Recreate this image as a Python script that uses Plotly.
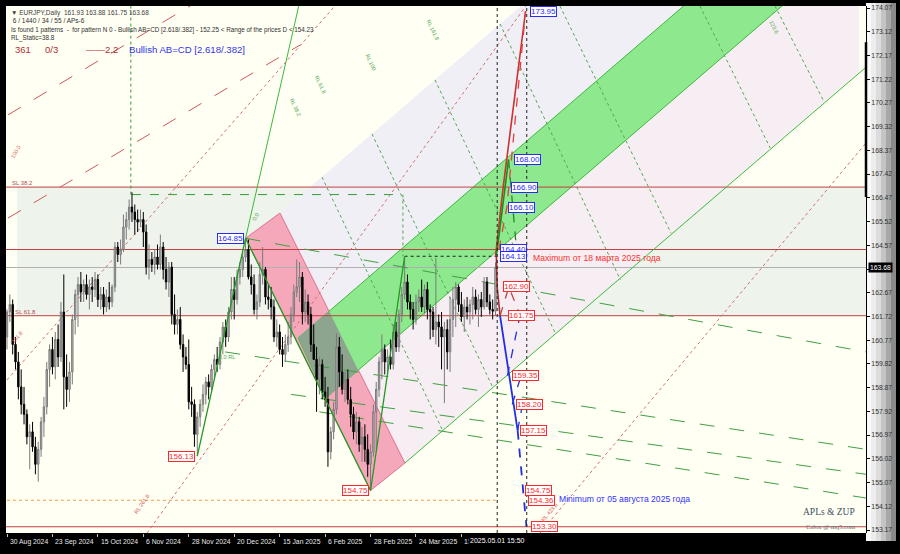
import plotly.graph_objects as go

# ---------------- data: daily EURJPY bars (bar index 0 = 30 Aug 2024) ----------------
bar_open = [160.9,161.9,162.2,160.6,159.9,158.9,158.2,157.8,156.9,157.1,156.5,155.8,156.4,157.5,158.1,159.6,160.4,159.7,160.8,160.1,
            161.9,159.3,158.8,159.5,161.6,162.6,163.0,162.7,163.0,162.6,162.9,162.8,163.2,162.4,162.6,162.1,162.5,162.3,162.9,164.5,
            164.2,164.4,165.3,165.6,166.1,165.9,165.6,165.5,165.6,165.1,163.7,164.0,163.8,164.1,163.8,164.5,163.6,163.1,163.7,161.8,
            161.4,161.6,160.6,160.1,159.8,158.3,158.2,157.0,157.7,158.2,158.6,159.1,158.9,159.6,160.0,159.8,160.7,161.3,160.9,161.9,
            162.8,162.4,163.3,163.6,164.1,164.4,163.3,163.0,162.0,162.3,163.4,163.6,162.5,162.4,162.1,160.9,161.1,160.4,160.2,160.6,
            160.9,161.8,162.7,162.9,163.3,161.9,162.3,161.8,160.6,160.0,159.2,159.8,158.7,158.4,156.3,157.1,158.0,160.5,159.5,158.8,
            159.2,158.4,157.8,157.1,157.5,156.6,156.9,156.4,155.8,156.3,157.9,158.8,159.9,160.4,159.9,160.1,159.8,161.1,160.5,161.8,
            162.6,163.1,162.3,162.0,161.6,162.3,162.5,162.1,162.8,162.0,161.9,161.2,161.5,161.3,160.9,161.2,160.3,161.6,162.4,162.9,
            162.2,161.7,162.1,161.9,162.2,162.5,162.0,162.4,162.1,163.1,162.3,162.0,161.93]
bar_high = [162.0,162.6,162.4,160.9,160.3,159.6,158.9,158.0,157.4,157.5,156.9,156.7,157.7,158.5,159.9,160.6,160.9,161.1,161.4,162.3,
            163.4,160.2,159.9,161.8,162.8,163.3,163.5,163.2,163.4,163.2,163.3,163.5,163.4,162.9,162.9,162.8,163.1,163.0,164.7,164.7,
            164.8,165.8,165.9,166.4,166.69,166.2,166.0,166.0,165.9,165.4,164.6,164.3,164.4,164.6,165.0,164.7,164.1,163.9,163.9,162.6,
            162.0,162.1,161.0,160.5,160.8,158.9,158.4,157.9,158.4,159.0,159.3,159.4,159.8,160.2,160.5,160.9,161.5,161.6,162.1,163.3,
            163.3,163.6,163.9,164.3,164.85,164.8,163.8,163.4,162.6,163.9,164.5,163.7,163.0,162.9,162.4,161.6,161.4,160.9,161.0,161.5,
            162.1,163.0,164.0,163.9,163.5,162.8,162.6,162.1,161.4,160.5,160.1,160.0,159.3,158.9,157.3,158.3,161.05,160.9,160.2,159.5,
            159.6,158.9,158.1,157.9,157.7,157.3,157.4,157.0,156.6,158.2,159.1,160.1,161.0,160.6,160.4,160.8,161.4,161.5,162.0,162.9,
            164.13,163.4,162.6,162.3,162.6,162.8,163.2,163.0,163.1,162.2,162.1,164.06,161.8,161.9,161.5,161.6,162.5,162.9,163.1,163.0,
            162.7,162.4,162.5,162.4,162.9,162.8,162.6,162.7,163.3,163.3,162.6,162.4,163.88]
bar_low = [160.4,161.5,160.2,159.6,158.4,157.8,157.4,156.6,155.6,156.3,155.4,155.1,156.1,156.9,157.8,158.9,159.4,159.2,159.7,159.9,
           158.0,158.1,158.3,159.0,161.0,161.3,162.3,162.3,162.4,162.0,162.3,162.5,162.1,162.0,161.8,161.9,162.0,162.1,162.7,163.9,
           163.8,164.3,164.8,165.2,165.5,165.0,165.1,165.3,164.5,163.4,163.2,163.5,163.4,163.6,163.6,163.2,162.8,162.5,161.4,161.0,
           161.0,160.4,159.5,159.6,158.0,157.7,156.5,156.13,157.3,157.9,158.2,158.4,158.7,159.2,159.5,159.6,160.2,160.5,160.7,161.6,
           161.6,162.2,163.0,163.3,163.9,163.2,162.6,161.8,161.6,162.1,163.0,162.2,162.0,161.6,160.7,160.5,160.2,159.7,159.9,160.3,
           160.6,161.5,162.5,162.3,161.4,161.5,161.4,160.3,160.2,157.9,158.6,158.4,158.1,155.7,156.0,156.8,157.8,158.9,158.6,158.3,
           158.2,157.3,156.8,156.6,156.3,155.9,155.9,155.3,154.75,156.1,156.4,158.5,159.2,159.4,159.3,159.6,159.6,160.3,160.3,161.5,
           162.4,162.0,161.6,161.2,161.4,161.9,161.9,161.8,161.6,160.8,160.9,160.6,160.5,159.6,158.25,159.6,159.5,160.9,161.3,161.9,
           161.5,161.1,161.6,161.4,161.6,161.8,161.3,161.7,162.0,162.1,161.8,161.6,161.75]
bar_close = [161.9,162.2,160.6,159.9,158.9,158.2,157.8,156.9,157.1,156.5,155.8,156.4,157.5,158.1,159.6,160.4,159.7,160.8,160.1,161.9,
             159.3,158.8,159.5,161.6,162.6,163.0,162.7,163.0,162.6,162.9,162.8,163.2,162.4,162.6,162.1,162.5,162.3,162.9,164.5,164.2,
             164.4,165.3,165.6,166.1,165.9,165.6,165.5,165.6,165.1,163.7,164.0,163.8,164.1,163.8,164.5,163.6,163.1,163.7,161.8,161.4,
             161.6,160.6,160.1,159.8,158.3,158.2,157.0,157.7,158.2,158.6,159.1,158.9,159.6,160.0,159.8,160.7,161.3,160.9,161.9,162.8,
             162.4,163.3,163.6,164.1,164.4,163.3,163.0,162.0,162.3,163.4,163.6,162.5,162.4,162.1,160.9,161.1,160.4,160.2,160.6,160.9,
             161.8,162.7,162.9,163.3,161.9,162.3,161.8,160.6,160.0,159.2,159.8,158.7,158.4,156.3,157.1,158.0,160.5,159.5,158.8,159.2,
             158.4,157.8,157.1,157.5,156.6,156.9,156.4,155.8,156.3,157.9,158.8,159.9,160.4,159.9,160.1,159.8,161.1,160.5,161.8,162.6,
             163.1,162.3,162.0,161.6,162.3,162.5,162.1,162.8,162.0,161.9,161.2,161.5,161.3,160.9,161.2,160.3,161.6,162.4,162.9,162.2,
             161.7,162.1,161.9,162.2,162.5,162.0,162.4,162.1,163.1,162.3,162.0,161.93,163.68]
bar_index = list(range(len(bar_close)))

date_tick_bars = [0, 16, 32, 48, 64, 80, 96, 112, 128, 144, 160]
date_tick_labels = ["30 Aug 2024", "23 Sep 2024", "15 Oct 2024", "6 Nov 2024", "28 Nov 2024", "20 Dec 2024",
                    "15 Jan 2025", "6 Feb 2025", "28 Feb 2025", "24 Mar 2025", "15"]
price_ticks = [153.17, 154.12, 155.07, 156.02, 156.97, 157.92, 158.87, 159.82, 160.77, 161.72, 162.67,
               163.62, 164.57, 165.52, 166.47, 167.42, 168.37, 169.32, 170.27, 171.22, 172.17, 173.12, 174.07]
price_tick_text = ["153.17", "154.12", "155.07", "156.02", "156.97", "157.92", "158.87", "159.82", "160.77", "161.72", "162.67",
                   "", "164.57", "165.52", "166.47", "167.42", "168.37", "169.32", "170.27", "171.22", "172.17", "173.12", "174.07"]
last_price = 163.68

# pattern points (bar, price)
pattern_bars = [67, 84, 128, 140]
pattern_prices = [156.13, 164.85, 154.75, 164.13]

# horizontal levels
red_levels = [166.90, 164.40, 161.75, 153.30]

# projection labels (bar of label left edge, price, colour)
proj_bars = [184.2, 178.5, 177.4, 176.4, 173.6, 173.6, 174.6, 176.4, 177.8, 179.2, 180.6, 182.4, 183.5, 184.5]
proj_prices = [173.95, 168.00, 166.90, 166.10, 164.40, 164.13, 162.90, 161.75, 159.35, 158.20, 157.15, 154.75, 154.36, 153.30]
proj_is_blue = [True, True, True, True, True, True, False, False, False, False, False, False, False, False]

# channel geometry (bar, price)
green_band_bars = [102.5, 300, 300, 112.3]
green_band_prices = [160.86, 180.2, 176.8, 158.46]
overlap_bars = [102.5, 113.4, 123.6, 112.3]
overlap_prices = [160.86, 161.94, 159.58, 158.46]
pink_band_bars = [84, 96.1, 140.1, 128]
pink_band_prices = [164.85, 165.86, 155.85, 154.75]

# fan / reaction lines: (bar0, price0, bar1, price1)
red_dash_lines = [(0.35, 169.79, 67.96, 174.39), (0.35, 165.66, 103.2, 172.59)]
red_dot_lines = [(0.0, 159.18, 117.3, 174.39), (49.3, 153.05, 184.2, 174.39), (187.7, 153.05, 302.5, 168.67)]
green_dot_lines = [(110.9, 167.3, 153.2, 157.2), (128.5, 169.03, 170.8, 158.94), (150.7, 171.19, 193.0, 161.06),
                   (173.6, 173.43, 216.0, 163.18), (194.7, 174.15, 233.8, 165.06), (244.0, 174.15, 268.7, 168.47),
                   (270.4, 174.15, 287.7, 170.31), (139.4, 166.6, 139.4, 164.13)]
green_fan_lines = [(84, 164.85, 302.45, 160.3), (76.8, 160.3, 302.45, 156.4),
                   (100, 158.6, 302.45, 155.4), (110, 157.9, 302.45, 154.45)]

X0, X1 = -0.352, 302.45
Y0, Y1 = 153.05, 174.15
PW = 860.0  # plot width in px


def px2paper(px):
    return (px - 6) / PW


fig = go.Figure()

BLUE = "#2828FF"
RED = "#FF2828"

shapes = []
shapes.append(dict(type="rect", xref="x", yref="y", x0=3.5, x1=X1, y0=161.75, y1=166.90,
                   fillcolor="#EEF3EC", line_width=0, layer="below"))
shapes.append(dict(type="path", xref="x", yref="y", layer="below", line_width=0, fillcolor="#F0EFF6",
                   path="M 96.1 165.86 L 300 185.8 L 300 180.2 L 102.5 160.86 Z"))
shapes.append(dict(type="path", xref="x", yref="y", layer="below", line_width=0, fillcolor="#F6EEF3",
                   path="M 112.3 158.46 L 300 176.8 L 300 171.5 L 140.1 155.85 Z"))


def poly(xs, ys):
    return "M " + " L ".join(f"{x} {y}" for x, y in zip(xs, ys)) + " Z"


shapes.append(dict(type="path", xref="x", yref="y", layer="below", path=poly(pink_band_bars, pink_band_prices),
                   fillcolor="#F5A8BA", line=dict(color="#E07090", width=1)))
shapes.append(dict(type="path", xref="x", yref="y", layer="below", path=poly(green_band_bars, green_band_prices),
                   fillcolor="#8EE88E", line=dict(color="#3CB83C", width=1)))
shapes.append(dict(type="path", xref="x", yref="y", layer="below", path=poly(overlap_bars, overlap_prices),
                   fillcolor="#8DA58F", line_width=0))

for lv in red_levels:
    shapes.append(dict(type="line", xref="x", yref="y", x0=X0, x1=X1, y0=lv, y1=lv,
                       line=dict(color="#C04040", width=1), layer="below"))
shapes.append(dict(type="line", xref="x", yref="y", x0=X0, x1=X1, y0=last_price, y1=last_price,
                   line=dict(color="#B0B0B0", width=1), layer="below"))
shapes.append(dict(type="line", xref="x", yref="y", x0=44, x1=139, y0=166.6, y1=166.6,
                   line=dict(color="#30A030", width=1, dash="dash"), layer="below"))
shapes.append(dict(type="line", xref="x", yref="y", x0=43.6, x1=43.6, y0=166.6, y1=Y1,
                   line=dict(color="#30A030", width=1, dash="dot"), layer="below"))
shapes.append(dict(type="line", xref="x", yref="y", x0=140, x1=172.5, y0=164.13, y1=164.13,
                   line=dict(color="#202020", width=1, dash="dot"), layer="below"))
shapes.append(dict(type="line", xref="x", yref="y", x0=0, x1=172.5, y0=154.36, y1=154.36,
                   line=dict(color="#F0A040", width=1, dash="dot"), layer="below"))
for vx in [172.6, 183.0]:
    shapes.append(dict(type="line", xref="x", yref="y", x0=vx, x1=vx, y0=Y0, y1=Y1,
                       line=dict(color="#202020", width=1, dash="dot")))
shapes.append(dict(type="line", xref="x", yref="y", x0=140.1, x1=302.45, y0=155.85, y1=171.7,
                   line=dict(color="#3CB83C", width=1), layer="below"))
shapes.append(dict(type="line", xref="x", yref="y", x0=84, x1=103.2, y0=164.85, y1=174.39,
                   line=dict(color="#3CB83C", width=1), layer="below"))
for (xa, ya, xb, yb) in green_fan_lines:
    shapes.append(dict(type="line", xref="x", yref="y", x0=xa, x1=xb, y0=ya, y1=yb,
                       line=dict(color="#40A040", width=1, dash="longdash"), layer="below"))
for (xa, ya, xb, yb) in green_dot_lines:
    shapes.append(dict(type="line", xref="x", yref="y", x0=xa, x1=xb, y0=ya, y1=yb,
                       line=dict(color="#50A850", width=1, dash="dot"), layer="below"))
for (xa, ya, xb, yb) in red_dash_lines:
    shapes.append(dict(type="line", xref="x", yref="y", x0=xa, x1=xb, y0=ya, y1=yb,
                       line=dict(color="#D05858", width=1, dash="longdash"), layer="below"))
for (xa, ya, xb, yb) in red_dot_lines:
    shapes.append(dict(type="line", xref="x", yref="y", x0=xa, x1=xb, y0=ya, y1=yb,
                       line=dict(color="#D07070", width=1, dash="dot"), layer="below"))

# right axis panel (bevel)
for k, col in enumerate(["#FAFAFA", "#EDEDED", "#DCDCDC", "#C4C4C4", "#A8A8A8", "#8A8A8A"]):
    shapes.append(dict(type="rect", xref="paper", yref="paper", x0=1 + k * 5 / PW, x1=1 + (k + 1) * 5 / PW,
                       y0=-8 / 527, y1=1 + 3 / 527, fillcolor=col, line_width=0, layer="below"))
shapes.append(dict(type="line", xref="paper", yref="y", x0=1, x1=1, y0=166.5, y1=172.7,
                   line=dict(color="#000000", width=2.5)))

fig.add_trace(go.Candlestick(x=bar_index, open=bar_open, high=bar_high, low=bar_low, close=bar_close,
                             increasing=dict(fillcolor="#BDBDBD", line=dict(color="#7A7A7A", width=1)),
                             decreasing=dict(fillcolor="#000000", line=dict(color="#000000", width=1)),
                             whiskerwidth=0, hoverinfo="skip", showlegend=False))

fig.add_trace(go.Scatter(x=pattern_bars, y=pattern_prices, mode="lines", line=dict(color="#229922", width=1.3),
                         hoverinfo="skip", showlegend=False))

fig.add_trace(go.Scatter(x=[172, 174.7, 182.6], y=[164.13, 166.90, 173.95], mode="lines",
                         line=dict(color="#D03030", width=1.6), hoverinfo="skip", showlegend=False))
fig.add_trace(go.Scatter(x=[173.2, 176.0, 182.6], y=[164.40, 166.10, 173.95], mode="lines",
                         line=dict(color="#E04040", width=1.3, dash="dash"), hoverinfo="skip", showlegend=False))
fig.add_trace(go.Scatter(x=[172.3, 176.6], y=[164.13, 168.00], mode="lines",
                         line=dict(color="#1E8C1E", width=1.6), hoverinfo="skip", showlegend=False))
fig.add_trace(go.Scatter(x=[176.6, 179.4], y=[168.00, 164.40], mode="lines",
                         line=dict(color="#1E8C1E", width=1.3, dash="dash"), hoverinfo="skip", showlegend=False))
fig.add_trace(go.Scatter(x=[172.3, 172.6, 173.6], y=[164.13, 162.90, 161.75], mode="lines",
                         line=dict(color="#A03030", width=1.6), hoverinfo="skip", showlegend=False))
fig.add_trace(go.Scatter(x=[173.6, 176.7, 180.2], y=[161.75, 162.90, 161.9], mode="lines",
                         line=dict(color="#C04040", width=1.3, dash="dash"), hoverinfo="skip", showlegend=False))
fig.add_trace(go.Scatter(x=[173.6, 179.8], y=[161.75, 157.15], mode="lines",
                         line=dict(color="#2030E0", width=1.8), hoverinfo="skip", showlegend=False))
fig.add_trace(go.Scatter(x=[179.8, 182.9], y=[157.15, 153.30], mode="lines",
                         line=dict(color="#2030E0", width=1.8, dash="dash"), hoverinfo="skip", showlegend=False))
fig.add_trace(go.Scatter(x=[176.2, 180.6, None, 177.9, 181.0, None, 179.8, 181.5],
                         y=[159.35, 161.75, None, 158.20, 159.35, None, 157.15, 158.20], mode="lines",
                         line=dict(color="#2030E0", width=1.3, dash="dash"), hoverinfo="skip", showlegend=False))

annotations = []
for b, t in zip(date_tick_bars, date_tick_labels):
    annotations.append(dict(x=b, y=0, xref="x", yref="paper", text=t, showarrow=False, xanchor="left", yanchor="top",
                            yshift=-3, xshift=1, font=dict(family="Liberation Sans", size=6.8, color="#E8E8E8")))
annotations.append(dict(x=172.6, y=0, xref="x", yref="paper", text="2025.05.01 15:50", showarrow=False,
                        xanchor="center", yanchor="top", yshift=-2, bgcolor="#000000", borderpad=1,
                        font=dict(family="Liberation Sans", size=7, color="#FFFFFF")))
annotations.append(dict(x=1, y=last_price, xref="paper", yref="y", text="163.68", showarrow=False, xanchor="left",
                        xshift=2, bgcolor="#000000", borderpad=1, font=dict(family="Liberation Sans", size=6.8, color="#FFFFFF")))

for b, p, isb in zip(proj_bars, proj_prices, proj_is_blue):
    c = BLUE if isb else RED
    annotations.append(dict(x=b, y=p, xref="x", yref="y", text=f"{p:.2f}", showarrow=False, xanchor="left",
                            bgcolor="#FFFFFF", bordercolor=c, borderwidth=1, borderpad=0,
                            font=dict(family="Liberation Sans", size=8, color=c)))
for b, p, isb in zip(pattern_bars[:3], pattern_prices[:3], [False, True, False]):
    c = BLUE if isb else RED
    annotations.append(dict(x=b, y=p, xref="x", yref="y", text=f"{p:.2f}", showarrow=False, xanchor="right",
                            xshift=-2, bgcolor="#FFFFFF", bordercolor=c, borderwidth=1, borderpad=0,
                            font=dict(family="Liberation Sans", size=8, color=c)))

annotations.append(dict(x=184.6, y=164.05, xref="x", yref="y", text="Maximum от 18 марта 2025 года", showarrow=False,
                        xanchor="left", font=dict(family="Liberation Sans", size=8.6, color="#FF3030")))
annotations.append(dict(x=193.8, y=154.42, xref="x", yref="y", text="Minimum от 05 августа 2025 года", showarrow=False,
                        xanchor="left", font=dict(family="Liberation Sans", size=8.6, color="#3030FF")))
annotations.append(dict(x=0.99, y=153.9, xref="paper", yref="y", text="APLs &amp; ZUP", showarrow=False, xanchor="right",
                        font=dict(family="Liberation Serif", size=9.5, color="#405060")))
annotations.append(dict(x=0.99, y=153.3, xref="paper", yref="y", text="Calox @ mq5.com", showarrow=False, xanchor="right",
                        font=dict(family="Liberation Serif", size=6.5, color="#607080")))
annotations.append(dict(x=0.005, y=167.06, xref="paper", yref="y", text="SL 38.2", showarrow=False, xanchor="left",
                        font=dict(family="Liberation Sans", size=6, color="#B05050")))
annotations.append(dict(x=0.008, y=161.9, xref="paper", yref="y", text="SL 61.8", showarrow=False, xanchor="left",
                        font=dict(family="Liberation Sans", size=6, color="#B05050")))

# small rotated level labels on the fan lines (bar, price, text, angle, colour)
fan_labels = [(3.0, 168.3, "100.0", -60, "#D06060"), (3.5, 160.9, "161.8", -50, "#D06060"),
              (47.5, 154.2, "RL 261.8", -55, "#D06060"), (191.0, 153.9, "RL 423.6", -50, "#D06060"),
              (101.5, 170.1, "RL 38.2", 64, "#50A850"), (110.5, 171.0, "RL 61.8", 64, "#50A850"),
              (128.0, 171.9, "RL 100", 64, "#50A850"), (150.0, 173.2, "RL 161.8", 64, "#50A850"),
              (270.0, 173.3, "123.6", 64, "#50A850"), (87.5, 165.7, "0.0", -62, "#50A850"),
              (77.5, 160.1, "2.0 RL", 0, "#50A850")]
for b, p, t, ang, col in fan_labels:
    annotations.append(dict(x=b, y=p, xref="x", yref="y", text=t, showarrow=False, textangle=ang,
                            font=dict(family="Liberation Sans", size=5.5, color=col)))

hdr = [("▼ EURJPY,Daily  161.93 163.88 161.75 163.68", 0.987, 6.5, "#404040"),
       (" 6 / 1440 / 34 / 55 / APs-6", 0.972, 6.5, "#303030"),
       ("Is found 1 patterns  -  for pattern N 0 - Bullish AB=CD [2.618/.382] - 152.25 &lt; Range of the prices D &lt; 154.23", 0.955, 6.3, "#303030"),
       ("RL_Static=38.8", 0.94, 6.3, "#303030")]
for t, yy, sz, col in hdr:
    annotations.append(dict(x=0.004, y=yy, xref="paper", yref="paper", text=t, showarrow=False, xanchor="left",
                            yanchor="middle", font=dict(family="Liberation Sans", size=sz, color=col)))
for t, pxx in [("361", 13), ("0/3", 43), ("——2.2", 84)]:
    annotations.append(dict(x=px2paper(pxx), y=0.918, xref="paper", yref="paper", text=t, showarrow=False,
                            xanchor="left", yanchor="middle", font=dict(family="Liberation Sans", size=9.5, color="#B03030")))
annotations.append(dict(x=px2paper(127), y=0.918, xref="paper", yref="paper", text="Bullish AB=CD [2.618/.382]", showarrow=False,
                        xanchor="left", yanchor="middle", font=dict(family="Liberation Sans", size=9.6, color="#3333EE")))

fig.update_layout(
    width=900, height=554,
    margin=dict(l=6, r=34, t=6, b=21, autoexpand=False),
    paper_bgcolor="#000000", plot_bgcolor="#FFFFF4",
    shapes=shapes, annotations=annotations, showlegend=False,
    xaxis=dict(range=[X0, X1], rangeslider=dict(visible=False), showgrid=False, zeroline=False,
               tickvals=date_tick_bars, showticklabels=False, ticks="outside", ticklen=3, tickcolor="#C0C0C0",
               showline=False, automargin=False),
    yaxis=dict(range=[Y0, Y1], side="right", showgrid=False, zeroline=False, tickvals=price_ticks,
               ticktext=price_tick_text, ticks="outside", ticklen=3, tickcolor="#000000",
               tickfont=dict(family="Liberation Sans", size=6.8, color="#303030"), showline=True,
               linecolor="#000000", linewidth=1, automargin=False),
)

fig.write_html("out.html", config={"displayModeBar": False},
               post_script="document.body.style.margin='0px';document.body.style.background='#000';")
